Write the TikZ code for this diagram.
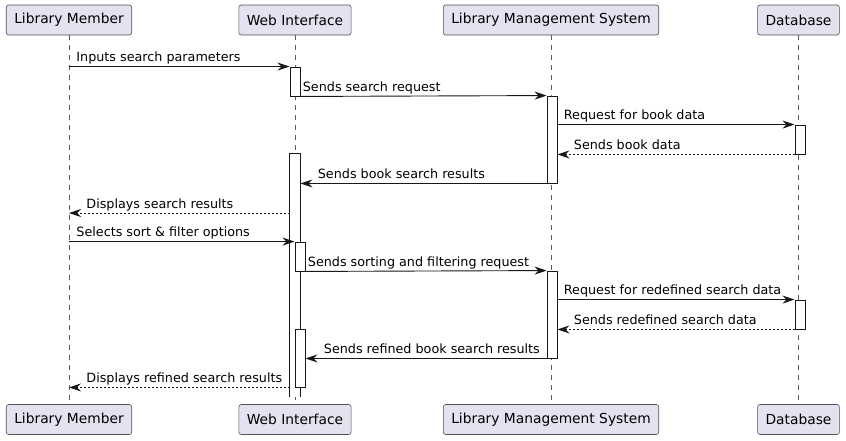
\documentclass[tikz,border=0pt]{standalone}
\usepackage{fontspec}
\setmainfont{DejaVu Sans}
\usetikzlibrary{arrows.meta}
\definecolor{partfill}{HTML}{E2E2F0}
\definecolor{linecol}{HTML}{181818}

\begin{document}
\begin{tikzpicture}[x=1pt, y=-1pt,
  participant/.style={draw=linecol!75, fill=partfill, rounded corners=2.5pt, line width=0.6pt,
    minimum height=30pt, inner xsep=8pt, font=\fontsize{13.8}{16}\selectfont},
  lifeline/.style={draw=linecol!70, line width=0.6pt, dash pattern=on 5pt off 5pt},
  act/.style={draw=linecol, fill=white, line width=0.9pt, minimum width=10pt, inner sep=0pt},
  msg/.style={draw=linecol, line width=0.9pt, -{Stealth[length=12pt, width=8pt, inset=4pt]}},
  reply/.style={msg, dash pattern=on 2pt off 2pt},
  lbl/.style={font=\fontsize{12.75}{15}\selectfont, inner sep=0pt, anchor=base west, yshift=5pt}]
  \useasboundingbox (0,0) rectangle (846,440);

  % Participantes
  \node[participant] (lmT) at (69,20) {Library Member};
  \node[participant] (wiT) at (295,20) {Web Interface};
  \node[participant] (lmsT) at (551,20) {Library Management System};
  \node[participant] (dbT) at (798.5,20) {Database};
  \node[participant] (lmB) at (69,419.5) {Library Member};
  \node[participant] (wiB) at (295,419.5) {Web Interface};
  \node[participant] (lmsB) at (551,419.5) {Library Management System};
  \node[participant] (dbB) at (798.5,419.5) {Database};

  % Lineas de vida
  \draw[lifeline] (lmT) -- (lmB);
  \draw[lifeline] (wiT) -- (wiB);
  \draw[lifeline] (lmsT) -- (lmsB);
  \draw[lifeline] (dbT) -- (dbB);

  % Activaciones
  \node[act, minimum height=29pt] (wiA) at (295,81.5) {};
  \node[act, minimum height=87pt] (lmsA) at (552,139.5) {};
  \node[act, minimum height=29pt] (dbA) at (800,139.5) {};
  \node[act, draw=none, minimum height=243pt] (wiO) at (295,275.5) {};
  \draw[linecol, line width=0.9pt] (wiO.south west) -- (wiO.north west) -- (wiO.north east) -- (wiO.south east);
  \node[act, minimum height=29pt] (wiC) at (300,256.5) {};
  \node[act, minimum height=87pt] (lmsC) at (552,314.5) {};
  \node[act, minimum height=29pt] (dbC) at (800,314.5) {};
  \node[act, minimum height=58pt] (wiD) at (300,358) {};
  \coordinate (disp) at (290,213);

  % Mensajes
  \draw[msg] (lmT |- wiA.north) -- (wiA.north west)
    node[lbl, at start, xshift=7pt] {Inputs search parameters};
  \draw[msg] (wiA.south east) -- (lmsA.north west)
    node[lbl, at start, xshift=2pt] {Sends search request};
  \draw[msg] (lmsA.east |- dbA.north) -- (dbA.north west)
    node[lbl, at start, xshift=6pt] {Request for book data};
  \draw[reply] (dbA.south west) -- (lmsA.east |- dbA.south)
    node[lbl, at end, xshift=16pt] {Sends book data};
  \draw[msg] (lmsA.south west) -- (wiO.east |- lmsA.south)
    node[lbl, at end, xshift=17pt] {Sends book search results};
  \draw[reply] (disp) -- (lmT |- disp)
    node[lbl, at end, xshift=17pt] {Displays search results};
  \draw[msg] (lmT |- wiC.north) -- (wiC.north west)
    node[lbl, at start, xshift=7pt] {Selects sort \& filter options};
  \draw[msg] (wiC.south east) -- (lmsC.north west)
    node[lbl, at start, xshift=2pt] {Sends sorting and filtering request};
  \draw[msg] (lmsC.east |- dbC.north) -- (dbC.north west)
    node[lbl, at start, xshift=6pt] {Request for redefined search data};
  \draw[reply] (dbC.south west) -- (lmsC.east |- dbC.south)
    node[lbl, at end, xshift=16pt] {Sends redefined search data};
  \draw[msg] (lmsC.south west) -- (wiD.east |- lmsC.south)
    node[lbl, at end, xshift=18pt] {Sends refined book search results};
  \draw[reply] (wiO.west |- wiD.south) -- (lmT |- wiD.south)
    node[lbl, at end, xshift=17pt] {Displays refined search results};
\end{tikzpicture}
\end{document}
